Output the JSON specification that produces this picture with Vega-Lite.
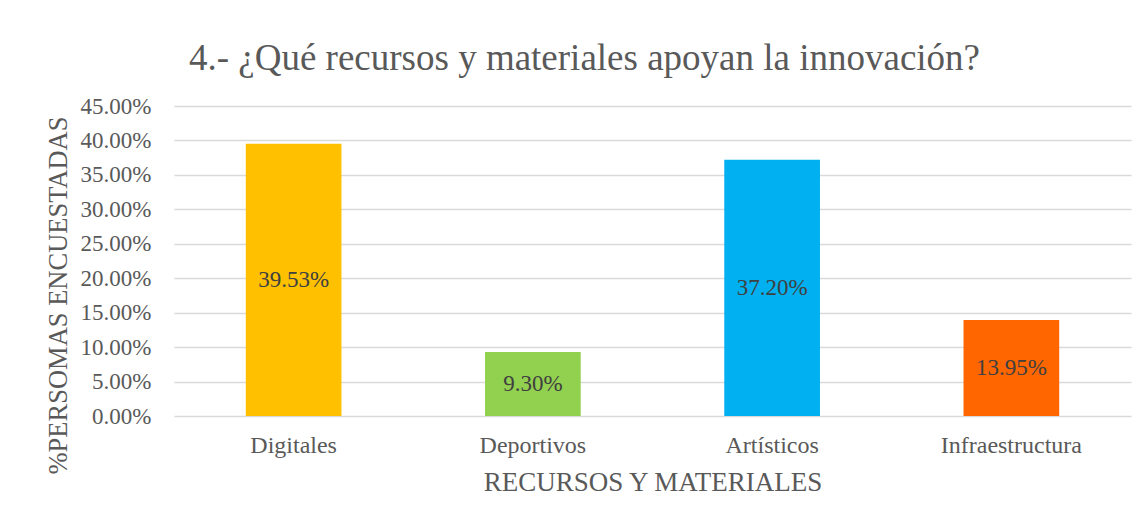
{
  "$schema": "https://vega.github.io/schema/vega-lite/v6.json",
  "width": 957,
  "height": 310,
  "autosize": {"type": "none"},
  "padding": {"left": 174, "top": 106, "right": 14, "bottom": 107},
  "background": "white",
  "config": {"font": "Liberation Serif", "view": {"stroke": null}},
  "title": {
    "text": "4.- ¿Qué recursos y materiales apoyan la innovación?",
    "fontSize": 37,
    "font": "Liberation Serif",
    "fontWeight": "normal",
    "color": "#595959",
    "anchor": "middle",
    "frame": "group",
    "dx": -68,
    "dy": 38,
    "baseline": "alphabetic",
    "offset": 26
  },
  "data": {
    "values": [
      {"categoria": "Digitales", "porcentaje": 0.3953},
      {"categoria": "Deportivos", "porcentaje": 0.093},
      {"categoria": "Artísticos", "porcentaje": 0.372},
      {"categoria": "Infraestructura", "porcentaje": 0.1395}
    ]
  },
  "transform": [{"calculate": "datum.porcentaje / 2", "as": "mitad"}],
  "encoding": {
    "x": {
      "field": "categoria",
      "type": "nominal",
      "sort": null,
      "scale": {"paddingInner": 0.6, "paddingOuter": 0.3},
      "axis": {
        "title": "RECURSOS Y MATERIALES",
        "titleFontSize": 27,
        "titleFontWeight": "normal",
        "titleColor": "#595959",
        "titlePadding": 12,
        "labelFontSize": 24,
        "labelColor": "#595959",
        "labelAngle": 0,
        "labelPadding": 17,
        "domain": false,
        "ticks": false,
        "grid": false
      }
    }
  },
  "layer": [
    {
      "mark": {"type": "bar"},
      "encoding": {
        "y": {
          "field": "porcentaje",
          "type": "quantitative",
          "scale": {"domain": [0, 0.45], "nice": false},
          "axis": {
            "title": "%PERSOMAS ENCUESTADAS",
            "titleFontSize": 26.5,
            "titleFontWeight": "normal",
            "titleColor": "#595959",
            "titleX": -108,
            "titleY": 189,
            "titleBaseline": "alphabetic",
            "format": ".2%",
            "values": [0, 0.05, 0.1, 0.15, 0.2, 0.25, 0.3, 0.35, 0.4, 0.45],
            "labelOverlap": false,
            "labelFontSize": 23,
            "labelColor": "#595959",
            "labelPadding": 23,
            "domain": false,
            "ticks": false,
            "gridColor": "#d9d9d9",
            "gridWidth": 1.3
          }
        },
        "color": {
          "field": "categoria",
          "type": "nominal",
          "legend": null,
          "scale": {
            "domain": ["Digitales", "Deportivos", "Artísticos", "Infraestructura"],
            "range": ["#FFC000", "#92D050", "#00B0F0", "#FF6600"]
          }
        }
      }
    },
    {
      "mark": {"type": "text", "fontSize": 23, "color": "#404040", "baseline": "middle", "align": "center"},
      "encoding": {
        "y": {
          "field": "mitad",
          "type": "quantitative",
          "scale": {"domain": [0, 0.45], "nice": false},
          "axis": {
            "title": "%PERSOMAS ENCUESTADAS",
            "titleFontSize": 26.5,
            "titleFontWeight": "normal",
            "titleColor": "#595959",
            "titleX": -108,
            "titleY": 189,
            "titleBaseline": "alphabetic",
            "format": ".2%",
            "values": [0, 0.05, 0.1, 0.15, 0.2, 0.25, 0.3, 0.35, 0.4, 0.45],
            "labelOverlap": false,
            "labelFontSize": 23,
            "labelColor": "#595959",
            "labelPadding": 23,
            "domain": false,
            "ticks": false,
            "gridColor": "#d9d9d9",
            "gridWidth": 1.3
          }
        },
        "text": {"field": "porcentaje", "type": "quantitative", "format": ".2%"}
      }
    }
  ]
}
